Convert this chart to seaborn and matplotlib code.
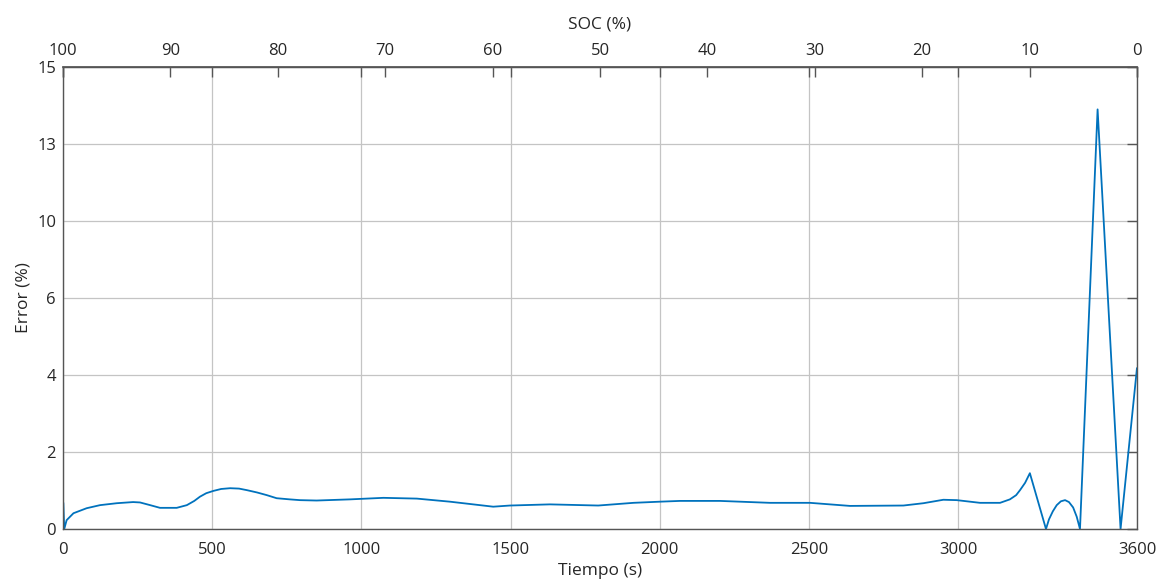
import numpy as np
import pandas as pd
import matplotlib
matplotlib.use("Agg")
import matplotlib.pyplot as plt
import seaborn as sns

# Estimation error over the discharge test
tiempo = [0, 1, 4, 12, 35, 79, 124, 180, 235, 258, 292, 325, 381, 415, 440, 459,
          480, 504, 530, 560, 590, 616, 650, 683, 716, 760, 794, 850, 962, 1074,
          1186, 1297, 1442, 1498, 1632, 1794, 1912, 2001, 2068, 2202, 2370, 2504,
          2638, 2817, 2884, 2951, 2996, 3074, 3141, 3174, 3195, 3208, 3225, 3241,
          3295, 3305, 3318, 3331, 3345, 3359, 3372, 3386, 3398, 3409, 3468, 3545,
          3600]
error = [0.68, 0.68, 0.0, 0.23, 0.41, 0.54, 0.62, 0.67, 0.70, 0.69, 0.62, 0.55,
         0.55, 0.62, 0.73, 0.84, 0.93, 0.99, 1.04, 1.06, 1.05, 1.01, 0.95, 0.88,
         0.80, 0.77, 0.75, 0.74, 0.77, 0.81, 0.79, 0.71, 0.58, 0.61, 0.64, 0.61,
         0.68, 0.71, 0.73, 0.73, 0.68, 0.68, 0.60, 0.61, 0.67, 0.76, 0.75, 0.68,
         0.68, 0.77, 0.88, 1.01, 1.20, 1.45, 0.0, 0.25, 0.46, 0.62, 0.72, 0.75,
         0.70, 0.56, 0.32, 0.0, 13.9, 0.0, 4.18]

# Tick labels of the error axis (evenly spaced on screen)
y_ticks = [0, 2, 4, 6, 10, 13, 15]
x_ticks = [0, 500, 1000, 1500, 2000, 2500, 3000, 3600]
soc_ticks = [100, 90, 80, 70, 60, 50, 40, 30, 20, 10, 0]

df = pd.DataFrame({"Tiempo (s)": tiempo, "Error (%)": error})

sns.set_theme(style="white")
plt.rcParams["font.family"] = ["Open Sans", "DejaVu Sans"]

text_col = "#262626"
spine_col = "#555555"
grid_col = "#c4c4c4"

fig = plt.figure(figsize=(11.61, 5.83), dpi=100)
ax = fig.add_axes([0.0543, 0.0926, 0.925, 0.7924])

# Piecewise-linear error scale: each labelled value sits one step apart
pos = np.arange(len(y_ticks), dtype=float)
vals = np.array(y_ticks, dtype=float)


def fwd(v):
    return np.interp(v, vals, pos)


def inv(p):
    return np.interp(p, pos, vals)


ax.set_yscale("function", functions=(fwd, inv))

sns.lineplot(data=df, x="Tiempo (s)", y="Error (%)", ax=ax, color="#0072BD",
             linewidth=1.3, sort=False, estimator=None)

ax.set_xlim(0, 3600)
ax.set_ylim(0, 15)
ax.set_xticks(x_ticks)
ax.set_yticks(y_ticks)
ax.set_xticklabels([str(t) for t in x_ticks])
ax.set_yticklabels([str(t) for t in y_ticks])

ax.grid(True, color=grid_col, linewidth=0.9)
for s in ax.spines.values():
    s.set_visible(True)
    s.set_color(spine_col)
    s.set_linewidth(1.0)

ax.tick_params(axis="both", direction="in", length=7, width=1.0, color=spine_col,
               labelsize=12, labelcolor=text_col, top=True, right=True,
               labeltop=False, labelright=False, pad=5)
ax.tick_params(axis="x", pad=9)
ax.set_xlabel("Tiempo (s)", fontsize=12.5, color=text_col, labelpad=4)
ax.set_ylabel("Error (%)", fontsize=12.5, color=text_col, labelpad=4)

# State of charge on the top axis
sec = ax.secondary_xaxis("top", functions=(lambda t: 100 - np.asarray(t) / 36.0,
                                           lambda s: (100 - np.asarray(s)) * 36.0))
sec.set_xticks(soc_ticks)
sec.set_xticklabels([str(s) for s in soc_ticks])
sec.tick_params(direction="in", length=7, width=1.0, color=spine_col,
                labelsize=12, labelcolor=text_col, pad=6)
sec.spines["top"].set_color(spine_col)
sec.set_xlabel("SOC (%)", fontsize=12.5, color=text_col, labelpad=10)

fig.savefig("out.png", dpi=100, facecolor="white")
